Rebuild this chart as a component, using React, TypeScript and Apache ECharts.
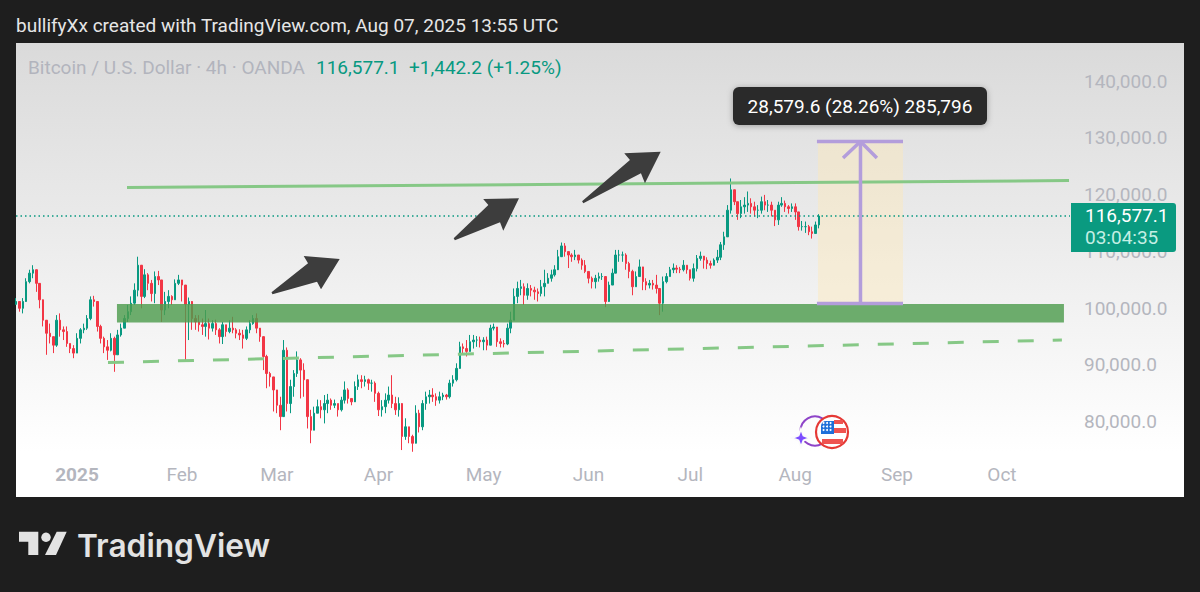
import React, { useEffect, useRef } from "react";
import * as echarts from "echarts";

// Daily-spaced price readings from the picture, in thousands of USD. First reading is day -18 (14 Dec 2024).
const highs = [
  102.1,101.5,102.1,105.6,107.1,107.9,105.6,102.6,101.2,97.9,
  97.6,95.3,99.1,99.4,97.1,97.1,94.1,93.8,95.9,96.8,
  97.6,99.1,102.4,102.5,101.2,97.4,95.3,94.7,95.9,95.3,
  96.5,97.6,99.1,100.9,102.4,104.7,109.4,105.3,107.2,106.5,
  105.3,106.8,106.9,105.3,103.2,103.5,102.6,105.4,106.2,105.3,
  102.4,102.2,100.9,99.1,99.1,98.5,100.0,98.5,98.2,98.3,
  96.8,97.9,97.4,98.2,98.8,96.8,96.6,96.5,97.1,98.2,
  99.1,99.4,96.5,94.7,92.1,89.1,86.8,85.0,84.7,94.7,
  93.4,87.7,89.4,92.7,91.5,90.6,83.8,82.4,82.95,84.2,
  84.1,85.0,85.2,84.4,84.2,83.5,84.7,87.4,86.2,84.4,
  87.4,88.6,88.5,88.4,87.9,87.7,87.4,85.6,84.1,85.3,
  86.5,88.5,84.7,84.6,79.5,80.9,79.4,78.0,83.2,82.4,
  84.1,85.6,85.9,86.2,85.3,85.6,85.4,85.2,87.7,88.5,
  90.6,94.4,94.1,94.7,95.6,95.6,95.4,95.3,95.2,95.3,
  97.4,97.6,95.0,95.0,94.7,97.6,99.7,103.8,105.0,105.3,
  104.7,104.7,104.4,104.1,103.8,105.3,107.1,106.5,107.1,107.9,
  110.6,111.9,111.8,110.3,110.0,110.6,109.4,109.1,108.8,106.8,
  105.9,106.2,106.6,106.5,104.4,105.0,107.3,110.6,110.6,110.3,
  110.0,108.5,107.1,106.8,108.9,107.3,105.6,105.3,105.3,106.2,
  102.1,105.9,106.5,107.6,108.2,107.9,107.6,108.8,107.9,107.1,
  108.2,109.7,110.3,109.4,109.3,108.7,109.1,110.6,112.0,113.8,
  118.5,123.2,120.6,119.1,119.4,119.9,120.9,119.7,119.1,118.5,
  120.0,120.3,119.4,119.1,117.6,119.1,119.9,119.3,118.5,118.8,
  118.8,116.0,115.7,115.6,115.0,114.7,115.6,116.9,
];
const lows = [
  100.9,99.7,99.4,102.6,104.7,105.6,103.2,100.3,97.1,92.1,
  94.1,92.4,93.5,95.3,94.7,93.5,92.4,91.5,92.4,94.1,
  95.9,96.5,98.2,100.6,96.2,94.1,92.4,91.2,92.7,89.1,
  92.1,95.3,96.8,97.9,99.1,100.9,102.4,100.3,102.1,103.5,
  101.5,101.2,104.4,97.9,99.1,100.3,100.9,101.8,104.4,101.5,
  91.1,94.7,96.5,96.5,96.2,95.6,95.3,94.8,96.2,95.6,
  94.1,94.0,95.3,95.9,95.9,95.0,94.7,93.2,94.7,95.9,
  97.4,95.9,94.4,89.4,86.2,86.5,82.1,81.8,78.8,81.8,
  82.1,81.8,84.7,88.2,84.4,84.7,79.1,76.5,78.8,81.8,
  80.9,80.0,81.8,82.4,82.7,81.2,82.1,83.5,83.5,83.2,
  84.7,85.9,86.2,86.5,85.9,85.6,83.8,81.3,81.2,81.8,
  83.5,82.7,81.5,81.2,75.3,77.1,76.5,75.0,77.1,78.4,
  78.8,82.4,83.5,83.8,83.1,83.5,84.1,84.2,84.4,86.5,
  87.4,90.0,92.1,91.8,92.9,93.2,93.5,93.4,92.9,92.9,
  94.1,96.4,93.5,93.4,93.4,93.8,95.9,98.2,101.2,102.6,
  100.9,101.8,102.4,101.8,101.5,102.4,102.4,104.7,105.0,105.9,
  107.4,110.3,109.4,107.4,108.5,108.8,108.2,107.1,106.5,104.7,
  103.8,103.8,105.0,105.3,100.5,102.1,105.0,107.1,108.5,108.5,
  107.1,105.6,102.6,104.1,105.9,103.5,103.5,103.8,103.6,102.9,
  99.1,99.7,104.7,105.9,106.5,106.5,106.5,106.8,106.4,105.2,
  105.0,106.8,108.7,107.3,107.2,107.3,108.1,108.3,108.8,110.6,
  113.5,117.0,118.5,115.9,116.2,117.0,117.3,117.0,116.5,116.2,
  117.0,117.6,117.3,116.5,114.8,115.0,118.2,117.3,117.0,117.3,
  115.9,114.0,114.0,113.6,113.2,112.6,113.5,114.4,
];
const closes = [
  101.5,100.3,101.5,105.0,106.5,107.1,104.7,101.8,98.2,95.9,
  95.3,93.8,98.2,96.5,96.2,94.1,93.2,92.4,95.0,96.5,
  96.8,98.5,101.8,101.5,97.1,95.0,93.5,92.9,95.0,92.1,
  95.6,96.8,98.5,99.7,101.2,103.5,107.9,102.4,106.2,104.7,
  102.9,105.9,105.3,100.0,101.5,102.4,101.8,104.7,105.3,104.4,
  101.0,101.5,98.5,97.9,97.4,97.1,97.6,96.8,97.6,96.5,
  95.3,97.4,96.2,96.8,96.5,95.9,95.6,95.0,96.5,97.6,
  98.5,96.8,95.3,91.8,88.8,88.2,85.9,83.2,81.2,92.9,
  83.5,86.5,88.8,91.2,89.4,87.7,81.2,78.8,81.8,82.95,
  82.4,83.5,84.1,83.2,83.5,82.4,84.1,85.9,84.4,83.8,
  86.5,87.7,87.4,87.7,87.1,87.1,85.3,82.4,82.95,84.1,
  85.0,83.5,82.4,83.5,77.7,79.4,77.7,76.5,81.8,79.4,
  83.5,84.7,85.0,84.7,84.1,84.7,85.0,84.7,87.1,87.7,
  89.7,93.5,93.2,92.7,94.4,94.7,94.7,94.4,94.7,93.8,
  96.8,97.0,94.4,94.1,94.0,96.8,98.2,102.4,103.8,104.1,
  102.6,103.8,103.5,103.2,102.9,104.1,104.7,105.6,106.2,107.1,
  109.4,111.3,110.3,109.7,109.4,109.7,108.8,107.9,106.8,105.6,
  105.0,105.6,105.9,105.9,101.5,104.4,106.5,109.7,109.7,109.7,
  108.2,106.8,104.1,105.9,107.6,105.0,104.4,104.7,104.4,103.8,
  101.2,105.0,105.9,107.1,107.4,107.2,107.1,107.9,107.1,105.6,
  107.3,109.1,109.5,108.8,108.2,107.9,108.8,109.3,111.5,112.9,
  117.6,121.2,119.1,117.0,118.2,118.5,118.8,118.2,117.6,117.6,
  119.1,118.5,118.5,117.6,115.9,118.5,118.8,118.2,117.9,118.2,
  117.3,114.7,114.7,114.7,113.8,113.5,115.0,116.577,
];
const firstDay = -18;
const firstOpen = 101.0;
const lastPrice = 116.5771;

// Axis
const monthTicks = [0, 31, 59, 89, 120, 151, 181, 212, 242, 273];
const monthLabels = ["2025", "Feb", "Mar", "Apr", "May", "Jun", "Jul", "Aug", "Sep", "Oct"];
const priceTicks = [80, 90, 100, 110, 120, 130, 140];
const dayMin = -18;
const dayMax = 293.09;
const priceMin = 67.02;
const priceMax = 147.09;

// Drawings: [day, price] pairs
const upperTrend = [[14.76, 121.6], [292.8, 122.84]];
const lowerTrend = [[9.15, 90.74], [290.7, 94.71]];
const supportZone = [11.8, 101.06, 291.3, 97.8];
const projectionBox = [218.7, 129.72, 243.8, 101.15];
const projTop = [[218.4, 129.72], [243.8, 129.72]];
const projBottom = [[218.4, 101.15], [243.8, 101.15]];
const projShaft = [[231.25, 129.72], [231.25, 101.15]];
const projHead = [[226.1, 126.8], [231.25, 129.72], [236.1, 126.8]];
const bigArrows = [
  [57.56, 102.95, 77.54, 109.0],
  [111.36, 112.47, 130.46, 119.7],
  [149.26, 119.0, 172.28, 127.92],
];
// arrow outlines, as fractions along / across each tail-to-head vector
const arrowOutlines = [
  [[0, -0.015], [0.602, -0.138], [0.595, -0.25], [1, 0], [0.6, 0.245], [0.598, 0.132], [0, 0.015]],
  [[0, -0.015], [0.615, -0.14], [0.6, -0.242], [1, 0], [0.6, 0.248], [0.623, 0.132], [0, 0.015]],
  [[0, -0.012], [0.674, -0.105], [0.662, -0.199], [1, 0], [0.673, 0.193], [0.695, 0.08], [0, 0.012]],
];

const GREEN_LINE = "#86c886";
const PURPLE = "#b39ddb";
const UP = "#089981";
const DOWN = "#f23645";
const AXIS_TEXT = "#b4b6be";
const FONT = "Roboto";

const k = (v: number) => v * 1000;
const pairs = (a: number[][]) => a.map(([d, p]) => [d, k(p)]);

function candles() {
  return closes.map((c, i) => {
    const o = i === 0 ? firstOpen : closes[i - 1];
    return [firstDay + i, k(o), k(c), k(lows[i]), k(highs[i])];
  });
}

function lineSeries(data: number[][], color: string, width: number, z: number, type: any = "solid", cap = "butt") {
  return {
    type: "line",
    data,
    showSymbol: false,
    silent: true,
    z,
    lineStyle: { color, width, type, cap },
    itemStyle: { color },
  };
}

function rectSeries(box: number[], fill: string, z: number) {
  return {
    type: "custom",
    z,
    silent: true,
    data: [[box[0], k(box[1]), box[2], k(box[3])]],
    encode: { x: [0, 2], y: [1, 3] },
    renderItem: (_: any, api: any) => {
      const a = api.coord([api.value(0), api.value(1)]);
      const b = api.coord([api.value(2), api.value(3)]);
      return {
        type: "rect",
        shape: { x: a[0], y: a[1], width: b[0] - a[0], height: b[1] - a[1] },
        style: { fill },
      };
    },
  };
}

function txt(text: string, x: number, y: number, fill: string, fontSize: number, extra: any = {}) {
  return {
    type: "text",
    z: 60,
    silent: true,
    style: {
      text, x, y, fill, fontSize,
      fontFamily: extra.fontFamily || FONT,
      fontWeight: extra.fontWeight || 400,
      textAlign: extra.align || "left",
      textVerticalAlign: "middle",
      align: extra.align || "left",
      verticalAlign: "middle",
    },
  };
}

const flagStarRows = [423, 426.5, 430];
const flagStarCols = [823.5, 827, 830.5];

export default function App() {
  const ref = useRef<HTMLDivElement>(null);
  useEffect(() => {
    document.body.style.margin = "0";
    const chart = echarts.init(ref.current!, undefined, { renderer: "svg" });
    const flagStars: any[] = [];
    flagStarRows.forEach((cy) =>
      flagStarCols.forEach((cx) =>
        flagStars.push({ type: "circle", z: 54, silent: true, shape: { cx, cy, r: 1 }, style: { fill: "#ffffff" } })
      )
    );
    const option: any = {
      animation: false,
      backgroundColor: "#1e1e1e",
      grid: { left: 16, width: 1054, top: 43, height: 454, containLabel: false },
      xAxis: {
        type: "value",
        min: dayMin,
        max: dayMax,
        axisLine: { show: false },
        axisTick: { show: false },
        splitLine: { show: false },
        axisLabel: {
          inside: true,
          margin: 13,
          customValues: monthTicks,
          color: AXIS_TEXT,
          fontFamily: FONT,
          fontSize: 19,
          formatter: (v: number) => {
            const l = monthLabels[monthTicks.indexOf(v)];
            return v === 0 ? `{b|${l}}` : l;
          },
          rich: { b: { fontWeight: 700, fontSize: 19, color: AXIS_TEXT, fontFamily: FONT } },
        },
      },
      yAxis: {
        type: "value",
        position: "right",
        min: k(priceMin),
        max: k(priceMax),
        axisLine: { show: false },
        axisTick: { show: false },
        splitLine: { show: false },
        axisLabel: {
          margin: 14,
          customValues: priceTicks.map(k),
          color: AXIS_TEXT,
          fontFamily: FONT,
          fontSize: 19,
          formatter: (v: number) =>
            "{p|" + v.toLocaleString("en-US", { minimumFractionDigits: 1, maximumFractionDigits: 1 }) + "}",
          rich: { p: { color: AXIS_TEXT, fontFamily: FONT, fontSize: 19, padding: [0, 0, 4, 0] } },
        },
      },
      series: [
        rectSeries(projectionBox, "rgba(255,232,180,0.4)", 1),
        {
          type: "candlestick",
          z: 2,
          silent: true,
          data: candles(),
          encode: { x: 0, y: [1, 2, 3, 4] },
          barWidth: 2,
          itemStyle: { color: UP, color0: DOWN, borderColor: UP, borderColor0: DOWN, borderWidth: 1 },
        },
        rectSeries(supportZone, "rgba(78,156,78,0.82)", 3),
        lineSeries(pairs(upperTrend), GREEN_LINE, 3, 4),
        lineSeries(pairs(lowerTrend), GREEN_LINE, 3, 4, [16, 19]),
        lineSeries([[dayMin, k(lastPrice)], [dayMax, k(lastPrice)]], UP, 1.5, 4, [1.5, 3]),
        lineSeries(pairs(projTop), PURPLE, 3.5, 5),
        lineSeries(pairs(projBottom), PURPLE, 3.5, 5),
        lineSeries(pairs(projShaft), PURPLE, 3.5, 5),
        lineSeries(pairs(projHead), PURPLE, 3.5, 5),
        {
          type: "custom",
          z: 6,
          silent: true,
          data: bigArrows.map((a) => [a[0], k(a[1]), a[2], k(a[3])]),
          encode: { x: [0, 2], y: [1, 3] },
          renderItem: (params: any, api: any) => {
            const t = api.coord([api.value(0), api.value(1)]);
            const h = api.coord([api.value(2), api.value(3)]);
            const vx = h[0] - t[0];
            const vy = h[1] - t[1];
            return {
              type: "polygon",
              shape: {
                points: arrowOutlines[params.dataIndex].map(([u, w]) => [t[0] + u * vx - w * vy, t[1] + u * vy + w * vx]),
              },
              style: { fill: "#3d3d3d" },
            };
          },
        },
      ],
      graphic: [
        {
          type: "rect",
          z: -1,
          silent: true,
          shape: { x: 16, y: 43, width: 1168, height: 454 },
          style: {
            fill: new echarts.graphic.LinearGradient(0, 0, 0, 1, [
              { offset: 0, color: "#dadada" },
              { offset: 0.9, color: "#ffffff" },
              { offset: 1, color: "#ffffff" },
            ]),
          },
        },
        txt("bullifyXx created with TradingView.com, Aug 07, 2025 13:55 UTC", 16, 25, "#e6e6e6", 19),
        txt("Bitcoin / U.S. Dollar · 4h · OANDA", 28, 67, "#b2b4bd", 19),
        txt("116,577.1", 316, 67, UP, 19),
        txt("+1,442.2 (+1.25%)", 409, 67, UP, 19),
        // measurement label
        {
          type: "rect",
          z: 55,
          silent: true,
          shape: { x: 733, y: 87, width: 254, height: 38, r: 6 },
          style: { fill: "#2a2a2a", shadowBlur: 6, shadowColor: "rgba(0,0,0,0.3)", shadowOffsetY: 1 },
        },
        txt("28,579.6 (28.26%) 285,796", 860, 106, "#ffffff", 19, { align: "center" }),
        // last price tag
        {
          type: "rect",
          z: 55,
          silent: true,
          shape: { x: 1071, y: 203, width: 105, height: 49, r: [0, 3, 3, 0] },
          style: { fill: "#0a9a80" },
        },
        txt("116,577.1", 1085, 215, "#ffffff", 19),
        txt("03:04:35", 1085, 237, "#c4efe4", 19),
        // event icon
        { type: "circle", z: 50, silent: true, shape: { cx: 815, cy: 431, r: 14.5 }, style: { stroke: "#8e44c8", lineWidth: 2, fill: "rgba(0,0,0,0)" } },
        { type: "polygon", z: 51, silent: true, shape: { points: [[801, 429], [803.5, 435.5], [810, 438], [803.5, 440.5], [801, 447], [798.5, 440.5], [792, 438], [798.5, 435.5]] }, style: { fill: "#7c4dff", stroke: "#fbfbfb", lineWidth: 2 } },
        { type: "circle", z: 52, silent: true, shape: { cx: 832, cy: 432, r: 16 }, style: { fill: "#ffffff", stroke: "#e53935", lineWidth: 2.2 } },
        { type: "rect", z: 53, silent: true, shape: { x: 834, y: 420, width: 9, height: 4 }, style: { fill: "#ef5350" } },
        { type: "rect", z: 53, silent: true, shape: { x: 834, y: 428, width: 12, height: 5 }, style: { fill: "#ef5350" } },
        { type: "rect", z: 53, silent: true, shape: { x: 822, y: 439, width: 21, height: 5 }, style: { fill: "#ef5350" } },
        { type: "rect", z: 53, silent: true, shape: { x: 821, y: 421, width: 13, height: 13, r: [5, 0, 0, 0] }, style: { fill: "#1e6fd9" } },
        ...flagStars,
        // logo
        { type: "polygon", z: 50, silent: true, shape: { points: [[19, 531.7], [38.3, 531.7], [38.3, 555], [28.3, 555], [28.3, 541.7], [19, 541.7]] }, style: { fill: "#e3e3e3" } },
        { type: "circle", z: 50, silent: true, shape: { cx: 46, cy: 537.3, r: 4.7 }, style: { fill: "#e3e3e3" } },
        { type: "polygon", z: 50, silent: true, shape: { points: [[56.7, 531.7], [66.7, 531.7], [56, 555], [45, 555]] }, style: { fill: "#e3e3e3" } },
        txt("TradingView", 77, 545, "#e3e3e3", 31.7, { fontFamily: "Inter", fontWeight: 600 }),
      ],
    };
    chart.setOption(option);
    return () => chart.dispose();
  }, []);
  return <div ref={ref} style={{ width: 1200, height: 592 }} />;
}
